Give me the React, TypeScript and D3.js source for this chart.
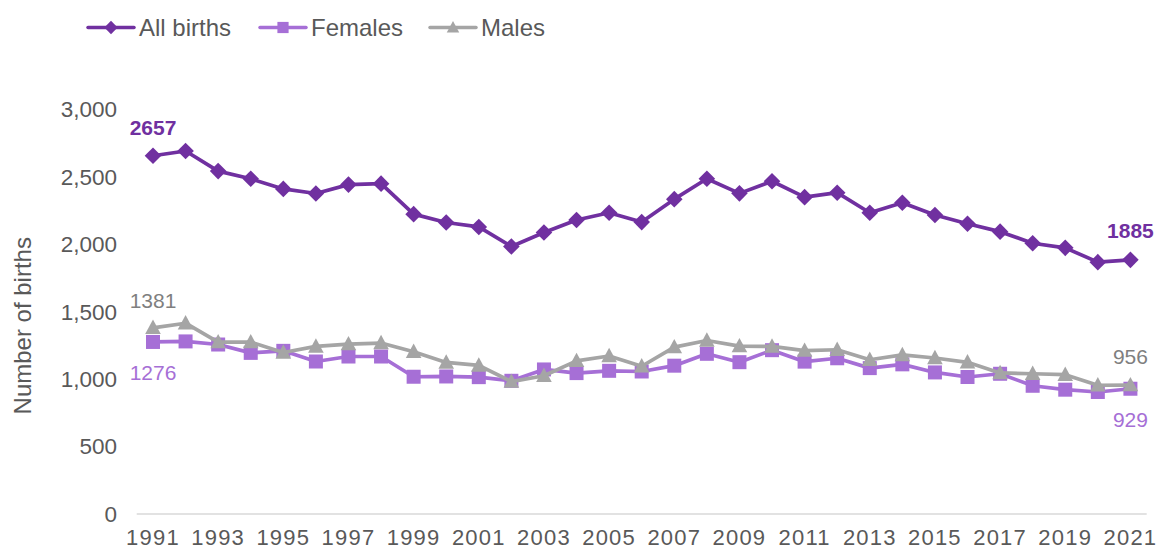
import React from "react";
import * as d3 from "d3";

const years = [
  "1991", "1992", "1993", "1994", "1995", "1996", "1997", "1998", "1999", "2000",
  "2001", "2002", "2003", "2004", "2005", "2006", "2007", "2008", "2009", "2010",
  "2011", "2012", "2013", "2014", "2015", "2016", "2017", "2018", "2019", "2020", "2021",
];

const allBirths = [
  2657, 2692, 2543, 2486, 2411, 2377, 2443, 2450, 2224, 2162,
  2129, 1984, 2088, 2180, 2234, 2165, 2335, 2486, 2378, 2468,
  2350, 2383, 2234, 2308, 2217, 2153, 2094, 2008, 1974, 1868, 1885,
];

const females = [
  1276, 1280, 1257, 1195, 1210, 1131, 1168, 1168, 1018, 1020,
  1015, 988, 1072, 1045, 1062, 1057, 1100, 1188, 1126, 1215,
  1130, 1155, 1082, 1110, 1050, 1016, 1040, 951, 922, 905, 929,
];

const males = [
  1381, 1415, 1275, 1275, 1198, 1243, 1260, 1268, 1203, 1124,
  1102, 982, 1025, 1136, 1172, 1096, 1238, 1287, 1245, 1243,
  1212, 1218, 1144, 1180, 1157, 1125, 1046, 1040, 1033, 955, 956,
];

const yTicks = [0, 500, 1000, 1500, 2000, 2500, 3000];
const xTickLabels = years.filter((_, i) => i % 2 === 0);

const seriesNames = ["All births", "Females", "Males"];
const seriesColors = ["#7030A0", "#A66FD6", "#A5A5A5"];
const seriesShapes = ["diamond", "square", "triangle"];

const W = 1159;
const H = 551;
const FONT = "'Liberation Sans', Arial, sans-serif";
const TEXT = "#595959";

function Marker({ shape, x, y, color, s = 1 }: { shape: string; x: number; y: number; color: string; s?: number }) {
  if (shape === "diamond") {
    const r = 8.3 * s;
    return <path d={`M${x},${y - r}L${x + r},${y}L${x},${y + r}L${x - r},${y}Z`} fill={color} />;
  }
  if (shape === "square") {
    const h = 7 * s;
    return <rect x={x - h} y={y - h} width={2 * h} height={2 * h} fill={color} />;
  }
  const h = 7.8 * s;
  return <path d={`M${x},${y - h * 1.05}L${x + h},${y + h * 0.8}L${x - h},${y + h * 0.8}Z`} fill={color} />;
}

export default function App() {
  const x = d3.scaleBand<string>().domain(years).range([136.7, 1146.7]);
  const cx = (yr: string) => (x(yr) as number) + x.bandwidth() / 2;
  const y = d3.scaleLinear().domain([0, 3000]).range([514, 109.5]);
  const fmt = d3.format(",");

  const data = [allBirths, females, males];
  const line = d3
    .line<number>()
    .x((_, i) => cx(years[i]))
    .y((v) => y(v));

  const legendX = [88, 260, 430];

  const firstX = cx(years[0]);
  const lastX = cx(years[years.length - 1]);

  return (
    <svg
      width={W}
      height={H}
      style={{ position: "absolute", left: 0, top: 0, background: "#fff" }}
      fontFamily={FONT}
    >
      <rect x={0} y={0} width={W} height={H} fill="#fff" />
      {/* Legend */}
      {seriesNames.map((n, i) => (
        <g key={n}>
          <line x1={legendX[i]} x2={legendX[i] + 46} y1={27.5} y2={27.5} stroke={seriesColors[i]} strokeWidth={3.5} strokeLinecap="round" />
          <Marker shape={seriesShapes[i]} x={legendX[i] + 23} y={27.5} color={seriesColors[i]} s={0.8} />
          <text x={legendX[i] + 51} y={27.5} dy="0.35em" fontSize={24} fill={TEXT}>
            {n}
          </text>
        </g>
      ))}

      {/* Y axis ticks */}
      {yTicks.map((t) => (
        <text key={t} x={117} y={y(t)} dy="0.35em" textAnchor="end" fontSize={22.5} fill={TEXT}>
          {fmt(t)}
        </text>
      ))}
      <text
        transform={`translate(23,${(y(0) + y(3000)) / 2 + 14}) rotate(-90)`}
        textAnchor="middle"
        dy="0.35em"
        fontSize={24}
        fill={TEXT}
      >
        Number of births
      </text>

      {/* X axis */}
      <line x1={136.7} x2={1146.7} y1={y(0)} y2={y(0)} stroke="#D9D9D9" strokeWidth={1.5} />
      {xTickLabels.map((t) => (
        <text key={t} x={cx(t)} y={545} textAnchor="middle" fontSize={22} letterSpacing={1.2} fill={TEXT}>
          {t}
        </text>
      ))}

      {/* Series */}
      {data.map((vals, si) => (
        <g key={si}>
          <path d={line(vals) as string} fill="none" stroke={seriesColors[si]} strokeWidth={3.7} strokeLinejoin="round" />
          {vals.map((v, i) => (
            <Marker key={i} shape={seriesShapes[si]} x={cx(years[i])} y={y(v)} color={seriesColors[si]} />
          ))}
        </g>
      ))}

      {/* Data labels */}
      <text x={firstX} y={128} dy="0.35em" textAnchor="middle" fontSize={21} fontWeight="bold" fill={seriesColors[0]}>
        {allBirths[0]}
      </text>
      <text x={lastX} y={231} dy="0.35em" textAnchor="middle" fontSize={21} fontWeight="bold" fill={seriesColors[0]}>
        {allBirths[allBirths.length - 1]}
      </text>
      <text x={firstX} y={301} dy="0.35em" textAnchor="middle" fontSize={21} fill="#7F7F7F">
        {males[0]}
      </text>
      <text x={firstX} y={373} dy="0.35em" textAnchor="middle" fontSize={21} fill={seriesColors[1]}>
        {females[0]}
      </text>
      <text x={lastX} y={357} dy="0.35em" textAnchor="middle" fontSize={21} fill="#7F7F7F">
        {males[males.length - 1]}
      </text>
      <text x={lastX} y={420} dy="0.35em" textAnchor="middle" fontSize={21} fill={seriesColors[1]}>
        {females[females.length - 1]}
      </text>
    </svg>
  );
}
